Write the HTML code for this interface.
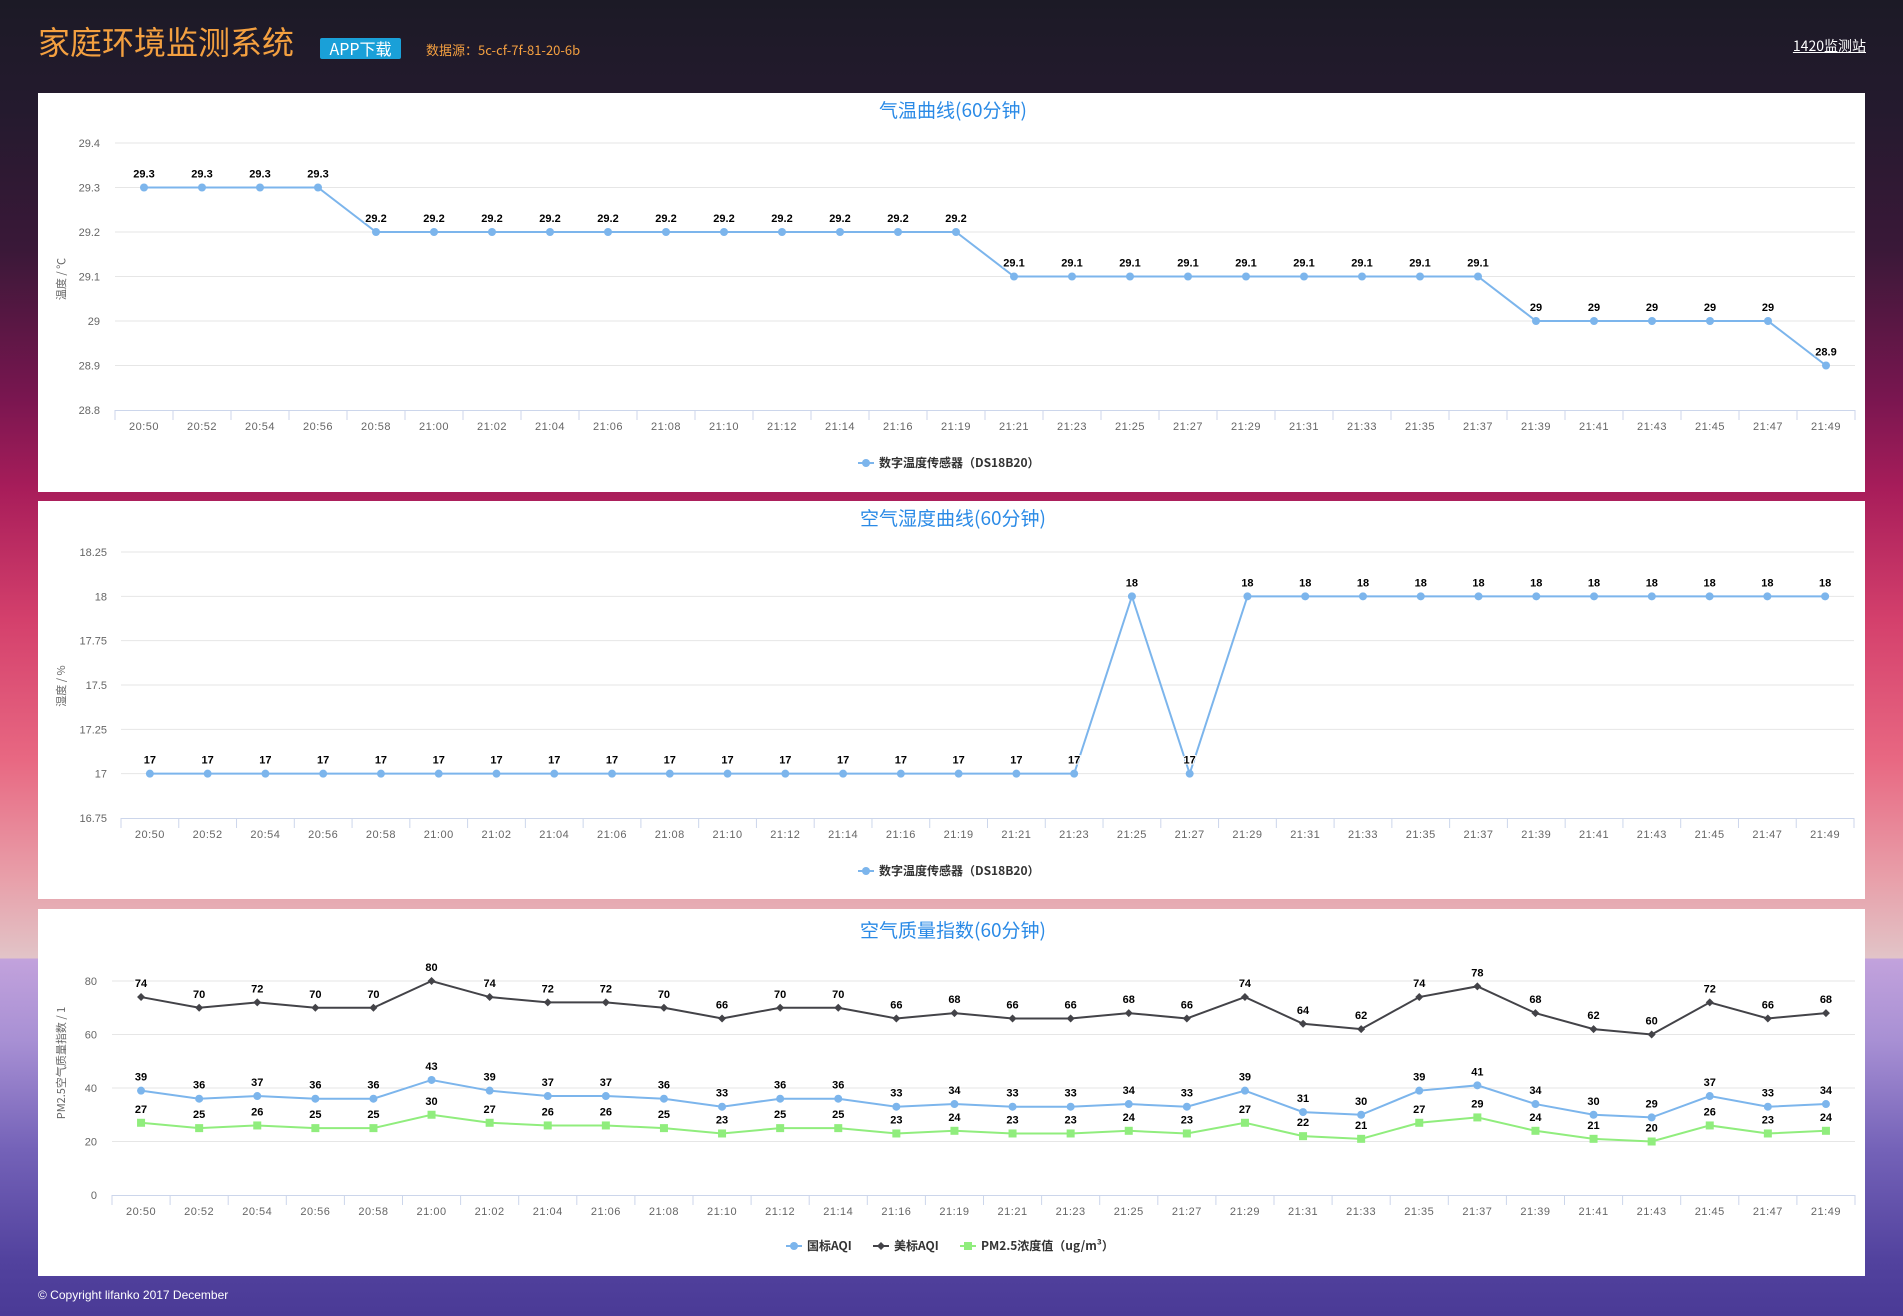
<!DOCTYPE html>
<html><head><meta charset="utf-8"><style>
html,body{margin:0;padding:0;}
body{width:1903px;height:1316px;position:relative;overflow:hidden;font-family:"Liberation Sans","Noto Sans CJK SC",sans-serif;
background:linear-gradient(180deg,#1c1a26 0px,#241a2e 110px,#3a1838 250px,#7a1650 400px,#a81d5a 490px,#d4406c 620px,#e86882 760px,#e8a0aa 880px,#e2c0c4 950px,#e2c4c8 958px,#c2a2dc 959px,#a890d4 1040px,#7462b8 1150px,#52429e 1260px,#4a3a96 1316px);}
.panel{position:absolute;left:38px;width:1827px;background:#fff;}
#title{position:absolute;left:38px;top:18px;font-size:32px;color:#f4a040;font-family:"Noto Sans CJK SC",sans-serif;}
#app{position:absolute;left:320px;top:38px;width:81px;height:21px;background:#1aa0d8;color:#fff;font-size:16px;line-height:21px;text-align:center;border-radius:2px;font-family:"Noto Sans CJK SC",sans-serif;}
#src{position:absolute;left:426px;top:40px;font-size:13px;color:#f4a040;font-family:"Noto Sans CJK SC",sans-serif;}
#link{position:absolute;right:37px;top:36px;font-size:14px;color:#fff;text-decoration:underline;font-family:"Noto Sans CJK SC",sans-serif;}
#foot{position:absolute;left:38px;top:1288px;font-size:12px;color:#fff;}
svg{position:absolute;left:0;top:0;}
</style></head><body>
<div id="title">家庭环境监测系统</div>
<div id="app">APP下载</div>
<div id="src">数据源：5c-cf-7f-81-20-6b</div>
<div id="link">1420监测站</div>
<div class="panel" style="top:93px;height:399px"></div>
<div class="panel" style="top:501px;height:398px"></div>
<div class="panel" style="top:909px;height:367px"></div>
<div id="foot">© Copyright lifanko 2017 December</div>
<svg id="svg" width="1903" height="1316"></svg>
<script>
const categories=["20:50","20:52","20:54","20:56","20:58","21:00","21:02","21:04","21:06","21:08","21:10","21:12","21:14","21:16","21:19","21:21","21:23","21:25","21:27","21:29","21:31","21:33","21:35","21:37","21:39","21:41","21:43","21:45","21:47","21:49"];
const tempValues=[29.3,29.3,29.3,29.3,29.2,29.2,29.2,29.2,29.2,29.2,29.2,29.2,29.2,29.2,29.2,29.1,29.1,29.1,29.1,29.1,29.1,29.1,29.1,29.1,29,29,29,29,29,28.9];
const tempTicks=[28.8,28.9,29,29.1,29.2,29.3,29.4];
const humValues=[17,17,17,17,17,17,17,17,17,17,17,17,17,17,17,17,17,18,17,18,18,18,18,18,18,18,18,18,18,18];
const humTicks=[16.75,17,17.25,17.5,17.75,18,18.25];
const cnAqi=[39,36,37,36,36,43,39,37,37,36,33,36,36,33,34,33,33,34,33,39,31,30,39,41,34,30,29,37,33,34];
const usAqi=[74,70,72,70,70,80,74,72,72,70,66,70,70,66,68,66,66,68,66,74,64,62,74,78,68,62,60,72,66,68];
const pm25=[27,25,26,25,25,30,27,26,26,25,23,25,25,23,24,23,23,24,23,27,22,21,27,29,24,21,20,26,23,24];
const aqiTicks=[0,20,40,60,80];

const NS="http://www.w3.org/2000/svg";
const svg=document.getElementById('svg');
function mk(tag,attrs,parent,text){const e=document.createElementNS(NS,tag);for(const k in attrs)e.setAttribute(k,attrs[k]);if(text!==undefined)e.textContent=text;(parent||svg).appendChild(e);return e;}

function chart(o){
  const g=mk('g',{});
  
  
  const n=categories.length, bw=(o.x1-o.x0)/n;
  const xs=i=>o.x0+bw*(i+0.5);
  const ys=v=>o.yB-(v-o.vmin)/(o.vmax-o.vmin)*(o.yB-o.yT);
  const t=mk('text',{x:953,y:o.titleY,'text-anchor':'middle','font-size':19,fill:'#2a8ae6','font-family':'"Noto Sans CJK SC",sans-serif'},g,o.title);
  
  
  o.ticks.forEach((v,i)=>{
    if(i>0){const l=mk('line',{x1:o.x0,x2:o.x1,y1:ys(v),y2:ys(v),stroke:'#e6e6e6','stroke-width':1},g);
    
    }
    const tl=mk('text',{x:o.labX,y:ys(v)+4,'text-anchor':'end','font-size':11,fill:'#666'},g,String(v));
    
    
  });
  const ax=mk('line',{x1:o.x0,x2:o.x1,y1:o.yB+0.5,y2:o.yB+0.5,stroke:'#ccd6eb'},g);
  
  
  for(let i=0;i<=n;i++){const tk=mk('line',{x1:o.x0+bw*i,x2:o.x0+bw*i,y1:o.yB,y2:o.yB+10,stroke:'#ccd6eb'},g);
    
    }
  categories.forEach((c,i)=>{const tl=mk('text',{x:xs(i),y:o.yB+20,'text-anchor':'middle','font-size':11,fill:'#666','letter-spacing':'0.5'},g,c);
    
    });
  const yt=mk('text',{x:0,y:0,'text-anchor':'middle','font-size':11,fill:'#666',transform:`translate(${o.ytX},${o.ytY}) rotate(-90)`,'font-family':'"Noto Sans CJK SC",sans-serif'},g,o.yTitle);
  
  
  o.series.forEach(s=>{
    const pts=s.data.map((v,i)=>xs(i)+','+ys(v)).join(' ');
    const pl=mk('polyline',{points:pts,fill:'none',stroke:s.color,'stroke-width':2},g);
    
    
    s.data.forEach((v,i)=>{
      const x=xs(i),y=ys(v);let m;
      if(s.marker==='circle')m=mk('circle',{cx:x,cy:y,r:4,fill:s.color},g);
      else if(s.marker==='diamond')m=mk('path',{d:`M${x} ${y-4}L${x+4} ${y}L${x} ${y+4}L${x-4} ${y}Z`,fill:s.color},g);
      else m=mk('rect',{x:x-4,y:y-4,width:8,height:8,fill:s.color},g);
      
      
      const dl=mk('text',{x:x,y:y-10,'text-anchor':'middle','font-size':11,'font-weight':'bold',fill:'#000',stroke:'#fff','stroke-width':2,'paint-order':'stroke'},g,String(v));
      
      
    });
  });
  let lx=o.legendX;
  o.series.forEach(s=>{
    const lg=mk('g',{},g);
    
    
    mk('line',{x1:lx,x2:lx+16,y1:o.legendY-4,y2:o.legendY-4,stroke:s.color,'stroke-width':2},lg);
    const x=lx+8,y=o.legendY-4;
    if(s.marker==='circle')mk('circle',{cx:x,cy:y,r:4,fill:s.color},lg);
    else if(s.marker==='diamond')mk('path',{d:`M${x} ${y-4}L${x+4} ${y}L${x} ${y+4}L${x-4} ${y}Z`,fill:s.color},lg);
    else mk('rect',{x:x-4,y:y-4,width:8,height:8,fill:s.color},lg);
    mk('text',{x:lx+21,y:o.legendY,'font-size':12,'font-weight':'bold',fill:'#333','font-family':'"Noto Sans CJK SC",sans-serif'},lg,s.label);
    lx+=21+s.lw;
  });
}
chart({name:'temperature-chart',title:'气温曲线(60分钟)',titleY:117,x0:115,x1:1855,yT:143,yB:410,vmin:28.8,vmax:29.4,ticks:tempTicks,labX:100,
  yTitle:'温度 / ℃',ytX:65,ytY:279,legendX:858,legendY:467,
  series:[{key:'temperature',data:tempValues,color:'#7cb5ec',marker:'circle',label:'数字温度传感器（DS18B20）',lw:160}]});
chart({name:'humidity-chart',title:'空气湿度曲线(60分钟)',titleY:525,x0:121,x1:1854,yT:552,yB:818,vmin:16.75,vmax:18.25,ticks:humTicks,labX:107,
  yTitle:'湿度 / %',ytX:65,ytY:686,legendX:858,legendY:875,
  series:[{key:'humidity',data:humValues,color:'#7cb5ec',marker:'circle',label:'数字温度传感器（DS18B20）',lw:160}]});
chart({name:'aqi-chart',title:'空气质量指数(60分钟)',titleY:937,x0:112,x1:1855,yT:981,yB:1195,vmin:0,vmax:80,ticks:aqiTicks,labX:97,
  yTitle:'PM2.5空气质量指数 / 1',ytX:65,ytY:1063,legendX:786,legendY:1250,
  series:[{key:'cn-aqi',data:cnAqi,color:'#7cb5ec',marker:'circle',label:'国标AQI',lw:66},
          {key:'us-aqi',data:usAqi,color:'#434348',marker:'diamond',label:'美标AQI',lw:66},
          {key:'pm25',data:pm25,color:'#90ed7d',marker:'square',label:'PM2.5浓度值（ug/m³）',lw:150}]});
</script>
</body></html>
